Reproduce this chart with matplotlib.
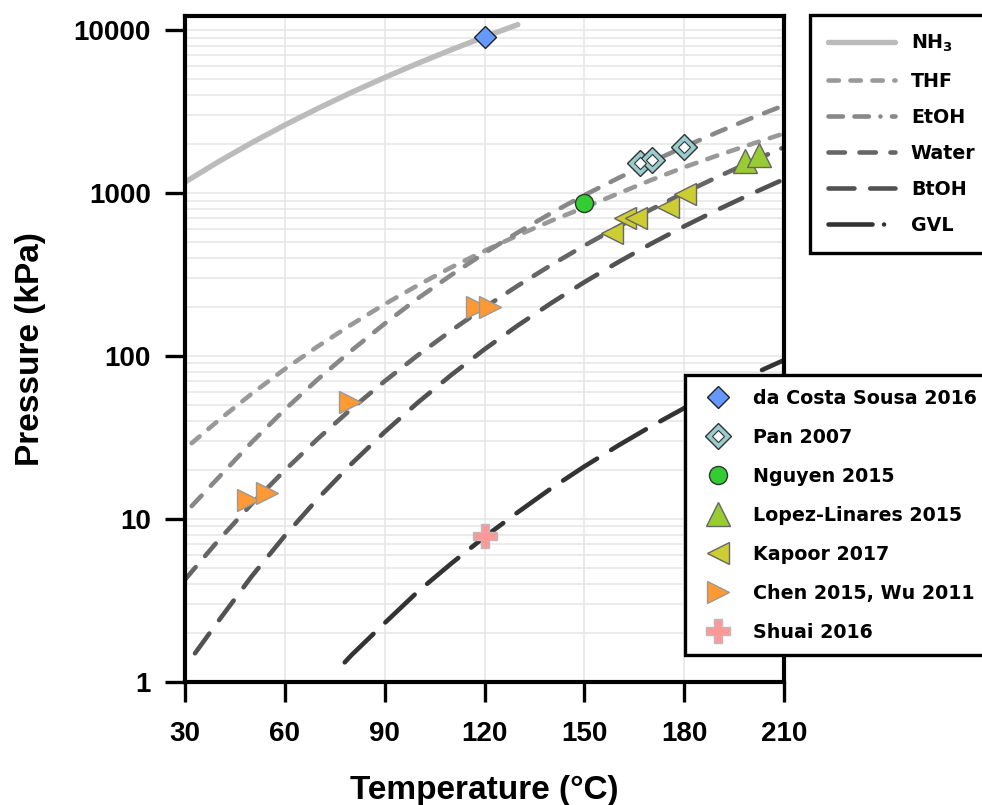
import matplotlib
matplotlib.use("Agg")
import matplotlib.pyplot as plt
from matplotlib.lines import Line2D

plt.rcParams['font.family'] = ['Liberation Sans', 'DejaVu Sans']
plt.rcParams['font.weight'] = 'bold'
plt.rcParams['mathtext.fontset'] = 'dejavusans'
plt.rcParams['mathtext.default'] = 'regular'
plt.rcParams['lines.scale_dashes'] = False

# vapour pressure curves, T in degC, P in kPa
nh3_t = [30, 40, 50, 60, 70, 80, 90, 100, 110, 120, 130]
nh3_p = [1167, 1555, 2033, 2614, 3312, 4142, 5116, 6255, 7571, 9080, 10800]

thf_t = [32, 40, 50, 60, 70, 80, 90, 100, 110, 120, 130, 140, 150, 160, 170, 180, 190, 200, 210]
thf_p = [29.2, 40.2, 58.6, 83.2, 115, 156, 208, 272, 350, 442, 550, 675, 815, 990, 1200, 1440, 1700, 1990, 2320]

etoh_t = [32, 40, 50, 60, 70, 80, 90, 100, 110, 120, 130, 140, 150, 160, 170, 180, 190, 200, 210]
etoh_p = [12.0, 17.9, 29.5, 47.0, 72.3, 108, 158, 226, 314, 428, 573, 752, 970, 1230, 1550, 1920, 2360, 2870, 3450]

water_t = [30, 40, 50, 60, 70, 80, 90, 100, 110, 120, 130, 140, 150, 160, 170, 180, 190, 200, 210]
water_p = [4.25, 7.38, 12.35, 19.9, 31.2, 47.4, 70.1, 101.3, 143.3, 198.5, 270.1, 361.4, 476, 618, 792, 1003, 1255, 1555, 1908]

btoh_t = [33, 40, 50, 60, 70, 80, 90, 100, 110, 120, 130, 140, 150, 160, 170, 180, 190, 200, 210]
btoh_p = [1.5, 2.36, 4.44, 7.89, 13.4, 21.8, 34.2, 51.9, 76.5, 110, 154, 211, 284, 375, 488, 625, 789, 985, 1215]

gvl_t = [78, 80, 90, 100, 110, 120, 130, 140, 150, 160, 170, 180, 190, 200, 210]
gvl_p = [1.32, 1.46, 2.30, 3.59, 5.33, 7.76, 11.0, 15.4, 21.0, 28.1, 37.0, 47.9, 61.0, 76.4, 94.4]

curve_labels = ['NH$_3$', 'THF', 'EtOH', 'Water', 'BtOH', 'GVL']

# literature data points
sousa_t, sousa_p = [120], [9020]
pan_t, pan_p = [166.7, 170.2, 180], [1520, 1590, 1920]
nguyen_t, nguyen_p = [150], [865]
lopez_t, lopez_p = [198.3, 202.4], [1570, 1700]
kapoor_t, kapoor_p = [158.3, 162.2, 165.5, 175.1, 180.2], [566, 700, 700, 820, 985]
chen_t, chen_p = [49, 54.5, 79.5, 117.6, 121.6], [13.1, 14.4, 52, 200, 200]
shuai_t, shuai_p = [120], [7.9]

point_labels = ['da Costa Sousa 2016', 'Pan 2007', 'Nguyen 2015', 'Lopez-Linares 2015',
                'Kapoor 2017', 'Chen 2015, Wu 2011', 'Shuai 2016']

x_ticks = [30, 60, 90, 120, 150, 180, 210]
y_ticks = [1, 10, 100, 1000, 10000]
y_ticklabels = ['1', '10', '100', '1000', '10000']

fig = plt.figure(figsize=(9.82, 8.05), dpi=100)
ax = fig.add_axes([185/982, 1-682/805, 599/982, 666/805])

lw = 3.3
colors = ['#bbbbbb', '#999999', '#888888', '#666666', '#525252', '#333333']
plot_dashes = [None, (7.5, 8.3), (10.4, 9.8), (11.8, 10.5), (17.6, 11.9), (29.1, 11.9)]
legend_dashes = [None, (7.5, 8.3), (10.4, 8.3, 10.4, 8.3, 0.01, 8.3), (11.8, 10.5), (18.7, 11.3), (31.7, 8.3, 0.01, 8.3)]
series = [(nh3_t, nh3_p), (thf_t, thf_p), (etoh_t, etoh_p),
          (water_t, water_p), (btoh_t, btoh_p), (gvl_t, gvl_p)]

line_handles = []
for (t, p), c, pd, ld in zip(series, colors, plot_dashes, legend_dashes):
    if pd is None:
        ax.plot(t, p, color=c, lw=3.9, solid_capstyle='round')
        line_handles.append(Line2D([], [], color=c, lw=3.9, solid_capstyle='round'))
    else:
        ax.plot(t, p, color=c, lw=lw, ls=(0, pd), dash_capstyle='round')
        line_handles.append(Line2D([], [], color=c, lw=lw, ls=(0, ld), dash_capstyle='round'))

m0, = ax.plot(sousa_t, sousa_p, 'D', ms=11.5, mfc='#6699ff', mec='#222222', mew=1.0, ls='none')
m1a, = ax.plot(pan_t, pan_p, 'D', ms=13.3, mfc='#99cccc', mec='#333333', mew=1.0, ls='none')
m1b, = ax.plot(pan_t, pan_p, 'D', ms=5.8, mfc='white', mec='#333333', mew=0.8, ls='none')
m2, = ax.plot(nguyen_t, nguyen_p, 'o', ms=13, mfc='#33cc33', mec='#333333', mew=1.0, ls='none')
m3, = ax.plot(lopez_t, lopez_p, '^', ms=17, mfc='#99cc33', mec='#666666', mew=1.0, ls='none')
m4, = ax.plot(kapoor_t, kapoor_p, '<', ms=16.5, mfc='#cccc33', mec='#666666', mew=1.0, ls='none')
m5, = ax.plot(chen_t, chen_p, '>', ms=16.5, mfc='#ff9933', mec='#999999', mew=1.0, ls='none')
m6, = ax.plot(shuai_t, shuai_p, 'P', ms=17.5, mfc='#ff9999', mec='#bbbbbb', mew=1.0, ls='none')

ax.set_yscale('log')
ax.set_xlim(30, 210)
ax.set_ylim(1, 12200)
ax.set_xticks(x_ticks)
ax.set_xticklabels([str(t) for t in x_ticks])
ax.set_yticks(y_ticks)
ax.set_yticklabels(y_ticklabels)
ax.tick_params(which='major', direction='out', length=14.4, width=2.4, labelsize=20)
ax.tick_params(axis='x', pad=13.5)
ax.tick_params(axis='y', pad=10)
ax.tick_params(which='minor', length=0)
ax.tick_params(axis='y', which='minor', labelleft=False)

ax.set_axisbelow(True)
ax.grid(which='major', color='#e6e6e6', lw=1.1)
ax.grid(which='minor', axis='y', color='#e6e6e6', lw=1.1)
for s in ax.spines.values():
    s.set_linewidth(3.0)

ax.set_xlabel('Temperature (°C)', fontsize=24, fontweight='bold', labelpad=20)
ax.set_ylabel('Pressure (kPa)', fontsize=24, fontweight='bold', labelpad=20)

leg_font = {'family': 'DejaVu Sans', 'weight': 'bold', 'size': 13.7}
leg1 = fig.legend(line_handles, curve_labels, loc='upper left',
                  bbox_to_anchor=(810/982, 1-15/805), borderaxespad=0, prop=leg_font,
                  handlelength=3.5, handletextpad=0.85, borderpad=0.95, labelspacing=0.9,
                  fancybox=False, edgecolor='black', framealpha=1)
leg1.get_frame().set_linewidth(2.4)

leg2 = fig.legend([m0, (m1a, m1b), m2, m3, m4, m5, m6], point_labels, loc='upper left',
                  bbox_to_anchor=(685/982, 1-375/805), borderaxespad=0, prop=leg_font,
                  handlelength=2.0, handletextpad=0.85, borderpad=0.72, labelspacing=1.05,
                  fancybox=False, edgecolor='black', framealpha=1)
leg2.get_frame().set_linewidth(2.4)

fig.savefig('out.png', dpi=100)
